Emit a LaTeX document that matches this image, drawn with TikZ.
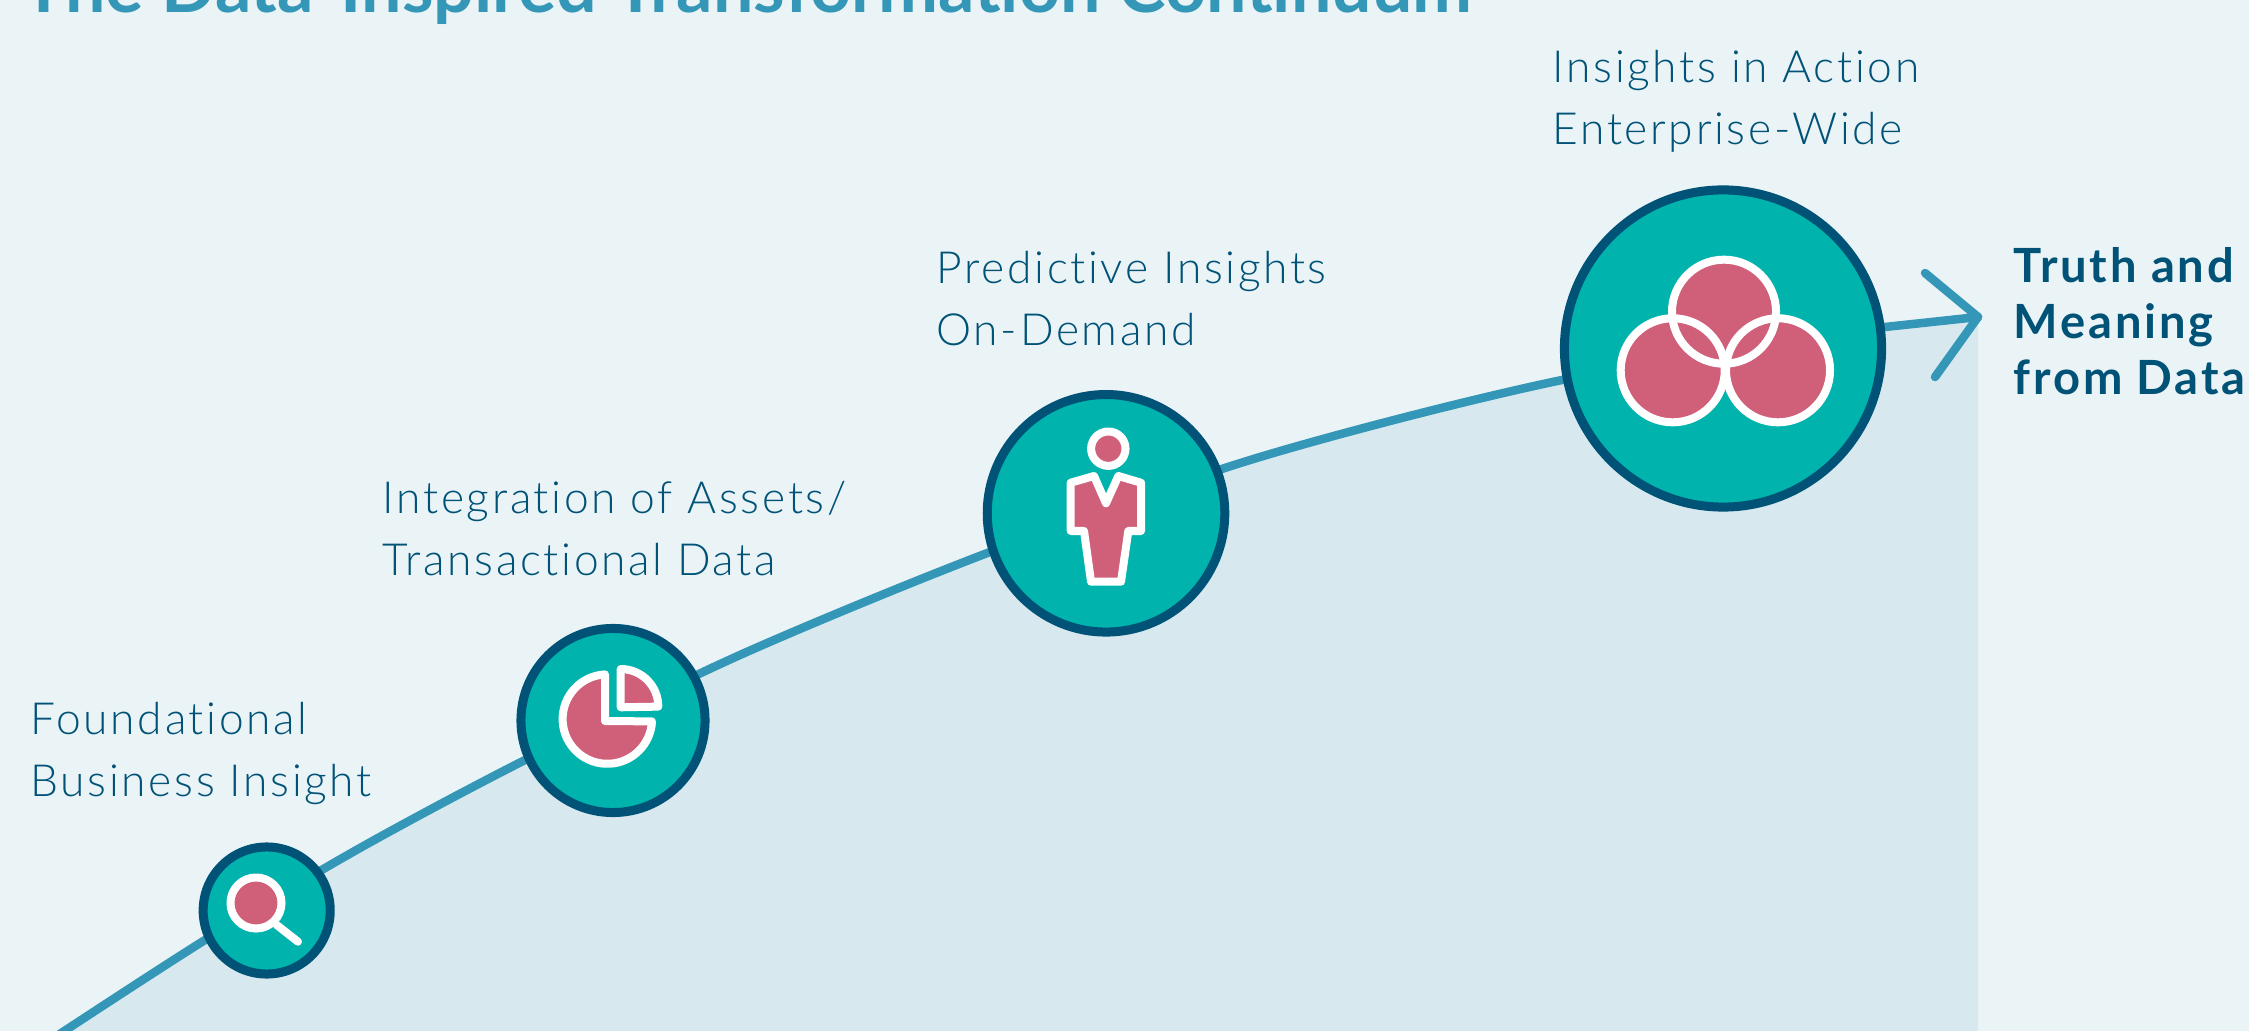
\documentclass[tikz,border=0pt]{standalone}
\usepackage{fontspec}
\setmainfont{Lato Light}[LetterSpace=6, Ligatures=CommonOff, BoldFont={Lato Bold}]
\newfontfamily\titlefont{Lato}[BoldFont={Lato Bold}, Ligatures=CommonOff]
\usepackage{xcolor}
\usepackage{tikz}
\usetikzlibrary{calc}

\definecolor{page blue}{HTML}{EAF3F6}
\definecolor{area blue}{HTML}{D7E9EF}
\definecolor{curve blue}{HTML}{3497B7}
\definecolor{ring blue}{HTML}{005277}
\definecolor{disc teal}{HTML}{00B3AD}
\definecolor{icon pink}{HTML}{D0607A}

\tikzset{
	stage disc/.style={circle, draw=ring blue, fill=disc teal, line width=0.09cm, inner sep=0pt},
	stage label/.style={anchor=north west, align=left, inner sep=0pt, text=ring blue, font=\fontsize{12.6}{17.6}\selectfont},
	icon line/.style={draw=white, fill=icon pink, line width=0.08cm, line join=round, line cap=round},
	curve line/.style={draw=curve blue, line width=0.085cm, line cap=round, line join=round}
}

\begin{document}
\begin{tikzpicture}[x=0.01cm, y=-0.01cm]
			\useasboundingbox (0,0) rectangle (2249,1031);
			\clip (0,0) rectangle (2249,1031);
			\fill [page blue] (0,0) rectangle (2249,1031);

			\coordinate (curve tip) at (1978,317);
			\coordinate (area corner) at (1978,1031);
			\coordinate (tip upper) at (1925,273);
			\coordinate (tip lower) at (1935,377);

			\fill [area blue] plot [smooth] coordinates {(40,1047) (205,940) (360,848) (525,760) (740,655) (990,552) (1260,457) (1562,380) (1885,327)} -- (curve tip) -- (area corner) -- (0,1047) -- cycle;
			\draw [curve line] plot [smooth] coordinates {(40,1047) (205,940) (360,848) (525,760) (740,655) (990,552) (1260,457) (1562,380) (1885,327)} -- (curve tip);
			\draw [curve line] (tip upper) -- (curve tip) -- (tip lower);

			\node [stage disc, minimum size=1.27cm] (search disc) at (266.7,910.5) {};
			\node [stage disc, minimum size=1.84cm] (pie disc) at (613,720.5) {};
			\node [stage disc, minimum size=2.374cm] (person disc) at (1106,513.3) {};
			\node [stage disc, minimum size=3.17cm] (venn disc) at (1723,348.5) {};

			% magnifier
			\begin{scope}
				\draw [icon line] (276.7,925) -- (298,941.7);
				\draw [icon line] (256,903) circle [radius=0.255cm];
			\end{scope}

			% pie chart
			\begin{scope}
				\draw [icon line] (605,674.4) arc [start angle=93, end angle=357, radius=0.447cm] -- (605,721) -- cycle;
				\draw [icon line] (620.7,669) arc [start angle=90, end angle=0, radius=0.376cm] -- (620.7,707.3) -- cycle;
			\end{scope}

			% person
			\begin{scope}
				\draw [icon line] (1108.3,448.7) circle [radius=0.172cm];
				\draw [icon line] (1070.7,482.7) -- (1094,476) -- (1106,503.3) -- (1118.3,476) -- (1141,482.7) -- (1141,531) -- (1128.3,531) -- (1121,581.7) -- (1091,581.7) -- (1084,531) -- (1070.7,531) -- cycle;
			\end{scope}

			% three overlapping circles
			\begin{scope}
				\foreach \x/\y in {1724/311.7, 1672.7/370.3, 1778/370.3}
				{
					\fill [icon pink] (\x,\y) circle [radius=0.52cm];
				}
				\foreach \x/\y in {1724/311.7, 1672.7/370.3, 1778/370.3}
				{
					\draw [white, line width=0.08cm] (\x,\y) circle [radius=0.52cm];
				}
			\end{scope}

			\node [stage label] (search label) at (30,702) {Foundational\\Business Insight};
			\node [stage label] (pie label) at (382,481) {Integration of Assets/\\Transactional Data};
			\node [stage label] (person label) at (936,251) {Predictive Insights\\On-Demand};
			\node [stage label] (venn label) at (1552,50) {Insights in Action\\Enterprise-Wide};

			\node [anchor=north west, align=left, inner sep=0pt, text=ring blue, font=\fontsize{13.4}{15.9}\selectfont\bfseries] (end label) at (2013,247) {Truth and\\Meaning\\from Data};

			\node [anchor=base west, inner sep=0pt, text=curve blue, font=\titlefont\fontsize{20.4}{24}\selectfont\bfseries] (title) at (22,13) {The Data-Inspired Transformation Continuum};
\end{tikzpicture}
\end{document}
